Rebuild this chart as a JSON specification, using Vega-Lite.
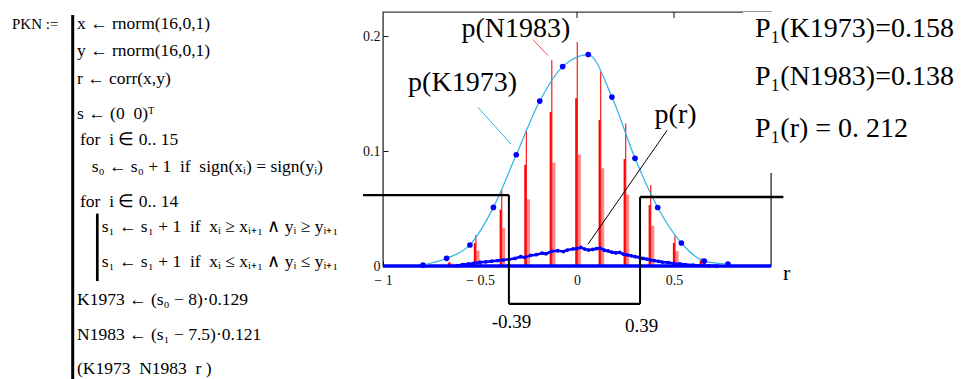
{
  "$schema": "https://vega.github.io/schema/vega-lite/v6.json",
  "background": "white",
  "padding": {"left": 0, "top": 10, "right": 0, "bottom": 0},
  "spacing": 13,
  "bounds": "flush",
  "resolve": {"scale": {"x": "independent", "y": "independent"}},
  "datasets": {
    "program": [
      {"col": 7.7, "row": 0.557, "text": "x ← rnorm(16,0,1)"},
      {"col": 7.7, "row": 1.467, "text": "y ← rnorm(16,0,1)"},
      {"col": 7.7, "row": 2.39, "text": "r ← corr(x,y)"},
      {"col": 7.7, "row": 3.577, "text": "s ← (0\u00a0\u00a00)ᵀ"},
      {"col": 8.0, "row": 4.423, "text": "for\u00a0\u00a0i ∈ 0.. 15"},
      {"col": 9.17, "row": 5.333, "text": "s₀ ← s₀ + 1\u00a0\u00a0if\u00a0\u00a0sign(xᵢ) = sign(yᵢ)"},
      {"col": 8.0, "row": 6.5, "text": "for\u00a0\u00a0i ∈ 0.. 14"},
      {"col": 10.17, "row": 7.333, "text": "s₁ ← s₁ + 1\u00a0\u00a0if\u00a0\u00a0xᵢ ≥ xᵢ₊₁ ∧ yᵢ ≥ yᵢ₊₁"},
      {"col": 10.17, "row": 8.5, "text": "s₁ ← s₁ + 1\u00a0\u00a0if\u00a0\u00a0xᵢ ≤ xᵢ₊₁ ∧ yᵢ ≤ yᵢ₊₁"},
      {"col": 7.7, "row": 9.777, "text": "K1973 ← (s₀ − 8)·0.129"},
      {"col": 7.7, "row": 10.944, "text": "N1983 ← (s₁ − 7.5)·0.121"},
      {"col": 7.7, "row": 12.05, "text": "(K1973\u00a0\u00a0N1983\u00a0\u00a0r )"}
    ],
    "progname": [{"col": 1.2, "row": 0.557, "text": "PKN :="}],
    "bars": [
      {"col": 7.27, "row": 0.1, "row2": 12.3, "level": "outer"},
      {"col": 9.73, "row": 6.72, "row2": 8.97, "level": "inner"}
    ],
    "k1973": [
      {"x": -0.794, "y": 0.0008}, {"x": -0.672, "y": 0.0067}, {"x": -0.552, "y": 0.0183},
      {"x": -0.431, "y": 0.051}, {"x": -0.313, "y": 0.0968}, {"x": -0.192, "y": 0.1435},
      {"x": -0.074, "y": 0.1735}, {"x": 0.058, "y": 0.184}, {"x": 0.18, "y": 0.147},
      {"x": 0.299, "y": 0.0937}, {"x": 0.416, "y": 0.0509}, {"x": 0.538, "y": 0.02},
      {"x": 0.656, "y": 0.0043}, {"x": 0.778, "y": 0.0017}
    ],
    "n1983": [
      {"x": -0.655, "base": 0, "h_full": 0.0035, "h_mid": 0.003, "h_low": 0.002},
      {"x": -0.521, "base": 0, "h_full": 0.027, "h_mid": 0.02, "h_low": 0.0135},
      {"x": -0.388, "base": 0, "h_full": 0.0657, "h_mid": 0.049, "h_low": 0.033},
      {"x": -0.261, "base": 0, "h_full": 0.117, "h_mid": 0.088, "h_low": 0.058},
      {"x": -0.13, "base": 0, "h_full": 0.179, "h_mid": 0.134, "h_low": 0.09},
      {"x": 0.0015, "base": 0, "h_full": 0.195, "h_mid": 0.146, "h_low": 0.097},
      {"x": 0.122, "base": 0, "h_full": 0.169, "h_mid": 0.127, "h_low": 0.085},
      {"x": 0.251, "base": 0, "h_full": 0.124, "h_mid": 0.093, "h_low": 0.062},
      {"x": 0.38, "base": 0, "h_full": 0.0704, "h_mid": 0.053, "h_low": 0.035},
      {"x": 0.505, "base": 0, "h_full": 0.0267, "h_mid": 0.02, "h_low": 0.013},
      {"x": 0.643, "base": 0, "h_full": 0.007, "h_mid": 0.005, "h_low": 0.0035}
    ],
    "pr": [
      {"x": -0.62, "y": 0.0003}, {"x": -0.59, "y": 0.0012}, {"x": -0.56, "y": 0.0018},
      {"x": -0.53, "y": 0.0025}, {"x": -0.5, "y": 0.0033}, {"x": -0.47, "y": 0.0036},
      {"x": -0.44, "y": 0.0042}, {"x": -0.41, "y": 0.0047}, {"x": -0.38, "y": 0.0052},
      {"x": -0.35, "y": 0.0058}, {"x": -0.32, "y": 0.0066}, {"x": -0.29, "y": 0.0081},
      {"x": -0.27, "y": 0.0074}, {"x": -0.24, "y": 0.0092}, {"x": -0.21, "y": 0.0098},
      {"x": -0.18, "y": 0.0112}, {"x": -0.16, "y": 0.0106}, {"x": -0.13, "y": 0.0128},
      {"x": -0.1, "y": 0.0133}, {"x": -0.07, "y": 0.0126}, {"x": -0.05, "y": 0.0139},
      {"x": -0.02, "y": 0.0148}, {"x": 0.0, "y": 0.0152}, {"x": 0.02, "y": 0.0161},
      {"x": 0.04, "y": 0.0147}, {"x": 0.06, "y": 0.0139}, {"x": 0.08, "y": 0.0144},
      {"x": 0.1, "y": 0.0151}, {"x": 0.12, "y": 0.0156}, {"x": 0.14, "y": 0.0138},
      {"x": 0.16, "y": 0.0131}, {"x": 0.18, "y": 0.012}, {"x": 0.2, "y": 0.0114},
      {"x": 0.22, "y": 0.0118}, {"x": 0.24, "y": 0.0102}, {"x": 0.26, "y": 0.0096},
      {"x": 0.28, "y": 0.0089}, {"x": 0.3, "y": 0.0081}, {"x": 0.32, "y": 0.0076},
      {"x": 0.34, "y": 0.0066}, {"x": 0.36, "y": 0.006}, {"x": 0.38, "y": 0.0052},
      {"x": 0.4, "y": 0.0046}, {"x": 0.42, "y": 0.0041}, {"x": 0.44, "y": 0.0034},
      {"x": 0.47, "y": 0.003}, {"x": 0.5, "y": 0.0022}, {"x": 0.53, "y": 0.0019},
      {"x": 0.56, "y": 0.0013}, {"x": 0.6, "y": 0.0008}, {"x": 0.64, "y": 0.0005},
      {"x": 0.68, "y": 0.0002}, {"x": 0.72, "y": 0.0}
    ],
    "step": [
      {"x": -1.103, "x2": -0.351, "y": 0.0617, "y2": 0.0617, "kind": "level"},
      {"x": -0.351, "x2": -0.351, "y": 0.0617, "y2": -0.033, "kind": "jump"},
      {"x": -0.351, "x2": 0.325, "y": -0.033, "y2": -0.033, "kind": "level"},
      {"x": 0.325, "x2": 0.325, "y": -0.033, "y2": 0.06, "kind": "jump"},
      {"x": 0.325, "x2": 1.064, "y": 0.06, "y2": 0.06, "kind": "level"}
    ],
    "leaders": [
      {"x": -0.51, "y": 0.138, "x2": -0.34, "y2": 0.106, "target": "K1973"},
      {"x": -0.227, "y": 0.197, "x2": -0.149, "y2": 0.183, "target": "N1983"},
      {"x": 0.464, "y": 0.118, "x2": 0.057, "y2": 0.019, "target": "r"}
    ],
    "textregion": [{"x": 0.856, "x2": 1.03, "y": 0.081, "y2": 0.221}],
    "topticks": [{"x": 0, "y": 0.221, "y2": 0.2158}, {"x": 0.5, "y": 0.221, "y2": 0.2158}],
    "baseline": [{"x": -1, "x2": 1, "y": 0, "y2": 0}],
    "labels": [
      {"x": -0.59, "y": 0.159, "text": "p(K1973)"},
      {"x": -0.315, "y": 0.206, "text": "p(N1983)"},
      {"x": 0.508, "y": 0.131, "text": "p(r)"}
    ],
    "cuts": [
      {"x": -0.4397, "y": -0.054, "text": "-0.39"},
      {"x": 0.2474, "y": -0.0574, "text": "0.39"}
    ],
    "axisname": [{"x": 1.062, "y": -0.0122, "text": "r"}],
    "info": [
      {"x": 0.9175, "y": 0.1993, "text": "P₁(K1973)=0.158"},
      {"x": 0.9175, "y": 0.1575, "text": "P₁(N1983)=0.138"},
      {"x": 0.9175, "y": 0.1122, "text": "P₁(r) = 0. 212"}
    ]
  },
  "hconcat": [
    {
      "width": 370,
      "height": 369,
      "layer": [
        {
          "data": {"name": "bars"},
          "mark": {"type": "rule", "color": "#000000"},
          "encoding": {
            "x": {"field": "col", "type": "quantitative", "scale": {"domain": [0, 37], "nice": false, "zero": false}, "axis": null},
            "y": {"field": "row", "type": "quantitative", "scale": {"domain": [0, 12.3], "nice": false, "zero": false, "reverse": true}, "axis": null},
            "y2": {"field": "row2"},
            "strokeWidth": {"field": "level", "type": "nominal", "scale": {"domain": ["outer", "inner"], "range": [3, 2]}, "legend": null}
          }
        },
        {
          "data": {"name": "program"},
          "mark": {"type": "text", "align": "left", "baseline": "alphabetic", "fontSize": 17.5, "font": "Liberation Serif", "color": "#000000"},
          "encoding": {
            "x": {"field": "col", "type": "quantitative", "scale": {"domain": [0, 37], "nice": false, "zero": false}, "axis": null},
            "y": {"field": "row", "type": "quantitative", "scale": {"domain": [0, 12.3], "nice": false, "zero": false, "reverse": true}, "axis": null},
            "text": {"field": "text"}
          }
        },
        {
          "data": {"name": "progname"},
          "mark": {"type": "text", "align": "left", "baseline": "alphabetic", "fontSize": 15, "font": "Liberation Serif", "color": "#000000"},
          "encoding": {
            "x": {"field": "col", "type": "quantitative", "scale": {"domain": [0, 37], "nice": false, "zero": false}, "axis": null},
            "y": {"field": "row", "type": "quantitative", "scale": {"domain": [0, 12.3], "nice": false, "zero": false, "reverse": true}, "axis": null},
            "text": {"field": "text"}
          }
        }
      ]
    },
    {
      "width": 388,
      "height": 254,
      "view": {"stroke": "#3a3a3a", "strokeWidth": 1.4, "fill": "white"},
      "layer": [
        {
          "data": {"name": "n1983"},
          "mark": {"type": "rule", "color": "#ff8a8a", "strokeWidth": 3.2, "xOffset": 2},
          "encoding": {
            "x": {"field": "x", "type": "quantitative", "title": null,
                  "scale": {"domain": [-1, 1], "nice": false, "zero": false},
                  "axis": {"values": [-1, -0.5, 0, 0.5], "tickSize": -5, "labelPadding": 12, "domain": false, "grid": false, "labelFlush": false, "labelOverlap": false,
                           "labelExpr": "datum.value < 0 ? '− ' + format(-datum.value, '') : format(datum.value, '')"}},
            "y": {"field": "base", "type": "quantitative", "title": null,
                  "scale": {"domain": [0, 0.221], "nice": false, "zero": false},
                  "axis": {"values": [0, 0.1, 0.2], "tickSize": -5, "labelPadding": 8, "domain": false, "grid": false, "labelExpr": "format(datum.value, '')"}},
            "y2": {"field": "h_low"}
          }
        },
        {
          "data": {"name": "n1983"},
          "mark": {"type": "rule", "color": "#ff0000", "strokeWidth": 2.2, "xOffset": -1},
          "encoding": {
            "x": {"field": "x", "type": "quantitative", "title": null, "scale": {"domain": [-1, 1], "nice": false, "zero": false}},
            "y": {"field": "base", "type": "quantitative", "title": null, "scale": {"domain": [0, 0.221], "nice": false, "zero": false}},
            "y2": {"field": "h_mid"}
          }
        },
        {
          "data": {"name": "n1983"},
          "mark": {"type": "rule", "color": "#ff1a1a", "strokeWidth": 1.2},
          "encoding": {
            "x": {"field": "x", "type": "quantitative", "title": null, "scale": {"domain": [-1, 1], "nice": false, "zero": false}},
            "y": {"field": "base", "type": "quantitative", "title": null, "scale": {"domain": [0, 0.221], "nice": false, "zero": false}},
            "y2": {"field": "h_full"}
          }
        },
        {
          "data": {"name": "baseline"},
          "mark": {"type": "rule", "color": "#0000ff", "strokeWidth": 3.5},
          "encoding": {
            "x": {"field": "x", "type": "quantitative", "title": null, "scale": {"domain": [-1, 1], "nice": false, "zero": false}},
            "x2": {"field": "x2"},
            "y": {"field": "y", "type": "quantitative", "title": null, "scale": {"domain": [0, 0.221], "nice": false, "zero": false}},
            "y2": {"field": "y2"}
          }
        },
        {
          "data": {"name": "pr"},
          "mark": {"type": "line", "color": "#0000ff", "strokeWidth": 2.6, "point": {"filled": true, "size": 14, "color": "#0000ff"}},
          "encoding": {
            "x": {"field": "x", "type": "quantitative", "title": null, "scale": {"domain": [-1, 1], "nice": false, "zero": false}},
            "y": {"field": "y", "type": "quantitative", "title": null, "scale": {"domain": [0, 0.221], "nice": false, "zero": false}}
          }
        },
        {
          "data": {"name": "k1973"},
          "mark": {"type": "line", "color": "#2fb2e6", "strokeWidth": 1.2, "interpolate": "monotone"},
          "encoding": {
            "x": {"field": "x", "type": "quantitative", "title": null, "scale": {"domain": [-1, 1], "nice": false, "zero": false}},
            "y": {"field": "y", "type": "quantitative", "title": null, "scale": {"domain": [0, 0.221], "nice": false, "zero": false}}
          }
        },
        {
          "data": {"name": "k1973"},
          "mark": {"type": "point", "filled": true, "size": 32, "color": "#0000ff", "opacity": 1},
          "encoding": {
            "x": {"field": "x", "type": "quantitative", "title": null, "scale": {"domain": [-1, 1], "nice": false, "zero": false}},
            "y": {"field": "y", "type": "quantitative", "title": null, "scale": {"domain": [0, 0.221], "nice": false, "zero": false}}
          }
        },
        {
          "data": {"name": "textregion"},
          "mark": {"type": "rect", "color": "white", "opacity": 1},
          "encoding": {
            "x": {"field": "x", "type": "quantitative", "title": null, "scale": {"domain": [-1, 1], "nice": false, "zero": false}},
            "x2": {"field": "x2"},
            "y": {"field": "y", "type": "quantitative", "title": null, "scale": {"domain": [0, 0.221], "nice": false, "zero": false}},
            "y2": {"field": "y2"}
          }
        },
        {
          "data": {"name": "step"},
          "mark": {"type": "rule", "color": "#000000"},
          "encoding": {
            "x": {"field": "x", "type": "quantitative", "title": null, "scale": {"domain": [-1, 1], "nice": false, "zero": false}},
            "x2": {"field": "x2"},
            "y": {"field": "y", "type": "quantitative", "title": null, "scale": {"domain": [0, 0.221], "nice": false, "zero": false}},
            "y2": {"field": "y2"},
            "strokeWidth": {"field": "kind", "type": "nominal", "scale": {"domain": ["level", "jump"], "range": [3.5, 1.3]}, "legend": null}
          }
        },
        {
          "data": {"name": "topticks"},
          "mark": {"type": "rule", "color": "#111111", "strokeWidth": 1},
          "encoding": {
            "x": {"field": "x", "type": "quantitative", "title": null, "scale": {"domain": [-1, 1], "nice": false, "zero": false}},
            "y": {"field": "y", "type": "quantitative", "title": null, "scale": {"domain": [0, 0.221], "nice": false, "zero": false}},
            "y2": {"field": "y2"}
          }
        },
        {
          "data": {"name": "leaders"},
          "mark": {"type": "rule", "strokeWidth": 1},
          "encoding": {
            "x": {"field": "x", "type": "quantitative", "title": null, "scale": {"domain": [-1, 1], "nice": false, "zero": false}},
            "x2": {"field": "x2"},
            "y": {"field": "y", "type": "quantitative", "title": null, "scale": {"domain": [0, 0.221], "nice": false, "zero": false}},
            "y2": {"field": "y2"},
            "color": {"field": "target", "type": "nominal", "scale": {"domain": ["K1973", "N1983", "r"], "range": ["#2fb2e6", "#ff5050", "#000000"]}, "legend": null}
          }
        },
        {
          "data": {"name": "labels"},
          "mark": {"type": "text", "align": "center", "baseline": "middle", "fontSize": 28, "font": "Liberation Serif", "color": "#000000"},
          "encoding": {
            "x": {"field": "x", "type": "quantitative", "title": null, "scale": {"domain": [-1, 1], "nice": false, "zero": false}},
            "y": {"field": "y", "type": "quantitative", "title": null, "scale": {"domain": [0, 0.221], "nice": false, "zero": false}},
            "text": {"field": "text"}
          }
        },
        {
          "data": {"name": "cuts"},
          "mark": {"type": "text", "align": "left", "baseline": "alphabetic", "fontSize": 19, "font": "Liberation Serif", "color": "#000000"},
          "encoding": {
            "x": {"field": "x", "type": "quantitative", "title": null, "scale": {"domain": [-1, 1], "nice": false, "zero": false}},
            "y": {"field": "y", "type": "quantitative", "title": null, "scale": {"domain": [0, 0.221], "nice": false, "zero": false}},
            "text": {"field": "text"}
          }
        },
        {
          "data": {"name": "axisname"},
          "mark": {"type": "text", "align": "left", "baseline": "alphabetic", "fontSize": 22, "font": "Liberation Serif", "color": "#000000"},
          "encoding": {
            "x": {"field": "x", "type": "quantitative", "title": null, "scale": {"domain": [-1, 1], "nice": false, "zero": false}},
            "y": {"field": "y", "type": "quantitative", "title": null, "scale": {"domain": [0, 0.221], "nice": false, "zero": false}},
            "text": {"field": "text"}
          }
        },
        {
          "data": {"name": "info"},
          "mark": {"type": "text", "align": "left", "baseline": "alphabetic", "fontSize": 28, "font": "Liberation Serif", "color": "#000000"},
          "encoding": {
            "x": {"field": "x", "type": "quantitative", "title": null, "scale": {"domain": [-1, 1], "nice": false, "zero": false}},
            "y": {"field": "y", "type": "quantitative", "title": null, "scale": {"domain": [0, 0.221], "nice": false, "zero": false}},
            "text": {"field": "text"}
          }
        }
      ]
    }
  ],
  "config": {
    "view": {"stroke": null, "fill": "white"},
    "font": "Liberation Serif",
    "axis": {"grid": false, "labelFont": "Liberation Serif", "labelFontSize": 14, "labelColor": "#111111", "tickColor": "#111111", "domainColor": "#3a3a3a", "domainWidth": 1.3, "title": null}
  }
}
